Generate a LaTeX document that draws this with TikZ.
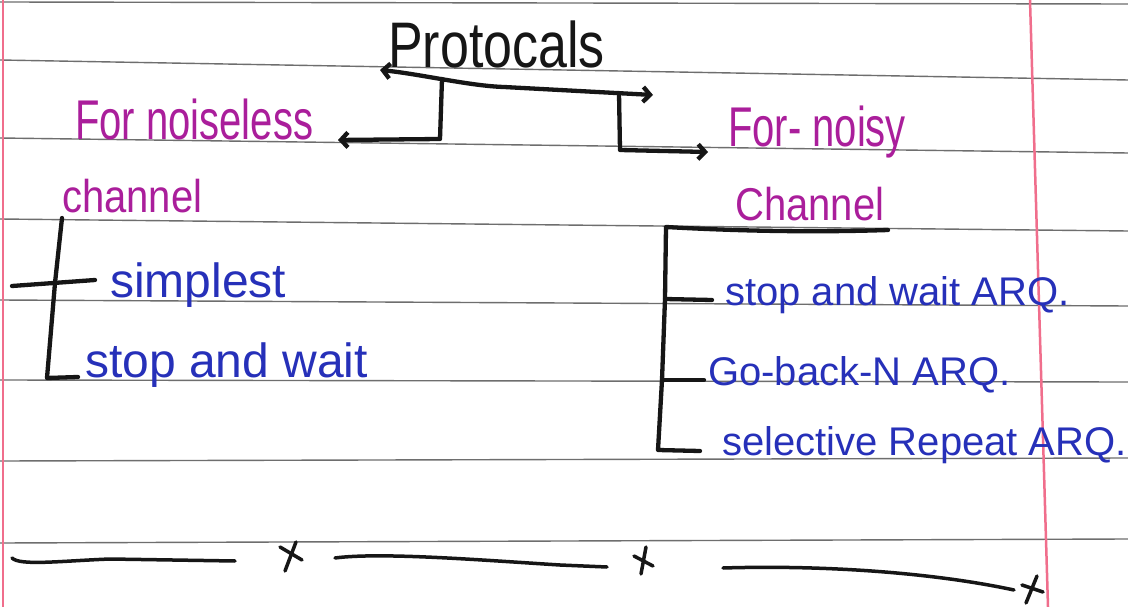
\documentclass[tikz,border=0pt]{standalone}
\usepackage{fontspec}
\usepackage{graphicx}
\setmainfont{Liberation Sans}
\usetikzlibrary{arrows.meta}
\definecolor{ink}{RGB}{22,22,22}
\definecolor{mag}{RGB}{170,30,155}
\definecolor{pen}{RGB}{38,48,185}
\definecolor{rulec}{RGB}{110,110,110}
\definecolor{marginc}{RGB}{240,110,140}
\newcommand{\tallx}[1]{\scalebox{1}[1.4]{#1}}
\begin{document}
\begin{tikzpicture}[x=1pt,y=-1pt,
  ruled/.style={rulec, line width=1.4pt},
  redline/.style={marginc, line width=2.5pt},
  conn/.style={ink, line width=4.3pt, line cap=round, line join=round},
  arr/.style={conn, -{Straight Barb[length=7pt,width=15pt]}},
  tx/.style={inner sep=0pt, anchor=base west},
  head/.style={tx, ink, font=\fontsize{46}{50}\selectfont},
  cat/.style={tx, mag, font=\fontsize{40}{46}\selectfont},
  itemL/.style={tx, pen, font=\fontsize{48}{54}\selectfont},
  itemR/.style={tx, pen, font=\fontsize{40}{46}\selectfont}]
\useasboundingbox (0,0) rectangle (1128,607);
\fill[white] (0,0) rectangle (1128,607);
% notebook rules
\draw[ruled] (0,2) -- (1128,4);
\draw[ruled] (0,60) -- (1128,80);
\draw[ruled] (0,138) -- (1128,153);
\draw[ruled] (0,219) -- (1128,231);
\draw[ruled] (0,300) -- (1128,306);
\draw[ruled] (0,380) -- (1128,382);
\draw[ruled] (0,461) -- (1128,458);
\draw[ruled] (0,543) -- (1128,539);
% margins
\draw[redline] (3,0) -- (3,607);
\draw[redline] (1030,0) -- (1048,607);
% texts
\node[head] (proto) at (388,68) {\scalebox{1.13}[1.4]{Protocals}};
\node[cat] (nl) at (75,140) {\tallx{For noiseless}};
\node[cat] (nlc) at (62,213) {\scalebox{1}[1.15]{channel}};
\node[cat] (ny) at (728,147) {\tallx{For- noisy}};
\node[cat] (nyc) at (735,221) {\scalebox{1}[1.15]{Channel}};
\node[itemL] (simp) at (110,297) {simplest};
\node[itemL] (sw) at (85,377) {stop and wait};
\node[itemR] (swa) at (725,305) {stop and wait ARQ.};
\node[itemR] (gbn) at (708,385) {Go-back-N ARQ.};
\node[itemR] (sr) at (722,455) {selective Repeat ARQ.};
% top bracket
\coordinate (bl) at (380,70);
\coordinate (b1) at (442,79);
\coordinate (b2) at (504,87);
\coordinate (b3) at (619,93);
\coordinate (br) at (653,95);
\draw[conn, {Straight Barb[length=7pt,width=15pt]}-{Straight Barb[length=7pt,width=15pt]}]
  (bl) .. controls (420,74) and (470,86) .. (b2) -- (br);
\coordinate (nlt) at (338,140);
\coordinate (nyt) at (708,152);
\draw[arr] (b1) -- (440,139) -- (nlt);
\draw[arr] (b3) -- (620,150) -- (nyt);
% left tree
\coordinate (lt) at (62,218);
\coordinate (lm) at (55,283);
\coordinate (lb) at (47,378);
\coordinate (lcross) at (12,286);
\coordinate (lcrossE) at (95,280);
\coordinate (lbE) at (78,377);
\draw[conn] (lt) -- (lm) -- (lb) -- (lbE);
\draw[conn] (lcross) -- (lcrossE);
% right tree
\coordinate (rt) at (666,227);
\coordinate (rtE) at (888,230);
\coordinate (r1) at (665,299);
\coordinate (r2) at (662,380);
\coordinate (r3) at (658,450);
\draw[conn] (rtE) .. controls (800,233) and (720,230) .. (rt) -- (r1) -- (r2) -- (r3) -- (700,451);
\draw[conn] (r1) -- (712,300);
\draw[conn] (r2) -- (704,380);
% bottom separators
\coordinate (s1a) at (12,558);
\coordinate (s1b) at (235,561);
\draw[conn, line width=3.5pt] (s1a) .. controls (20,566) and (60,561) .. (110,559) -- (s1b);
\draw[conn, line width=3.5pt] (280,547) -- (302,560);
\draw[conn, line width=3.5pt] (296,542) -- (285,571);
\coordinate (s2a) at (335,558);
\coordinate (s2b) at (607,567);
\draw[conn, line width=3.5pt] (s2a) .. controls (380,552) and (480,560) .. (560,565) -- (s2b);
\draw[conn, line width=3.5pt] (634,556) -- (653,566);
\draw[conn, line width=3.5pt] (646,547) -- (641,574);
\coordinate (s3a) at (723,568);
\coordinate (s3b) at (1014,590);
\draw[conn, line width=3.5pt] (s3a) .. controls (820,565) and (930,572) .. (s3b);
\draw[conn, line width=3.5pt] (1022,585) -- (1043,592);
\draw[conn, line width=3.5pt] (1037,576) -- (1026,603);
\end{tikzpicture}
\end{document}
